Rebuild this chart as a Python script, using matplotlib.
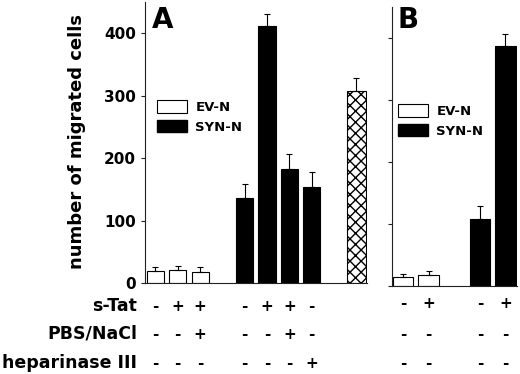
import matplotlib

matplotlib.use("Agg")
import matplotlib.pyplot as plt
from matplotlib.patches import Patch
from matplotlib.transforms import blended_transform_factory

# panel A: EV-N bars, SYN-N bars, crosshatched control bar
pos_ev_a = [0, 1, 2]
ev_a = [19, 21, 18]
ev_a_err = [6, 6, 7]
pos_syn_a = [4, 5, 6, 7]
syn_a = [136, 411, 182, 154]
syn_a_err = [22, 19, 25, 24]
pos_hatch_a = [9]
hatch_a = [308]
hatch_a_err = [20]

# panel B
pos_ev_b = [0, 1]
ev_b = [15, 17]
ev_b_err = [5, 7]
pos_syn_b = [3, 4]
syn_b = [108, 387]
syn_b_err = [21, 20]

row_labels = ["s-Tat", "PBS/NaCl", "heparinase III"]
sign_pos_a = [0, 1, 2, 4, 5, 6, 7]
signs_a = [
    ["-", "+", "+", "-", "+", "+", "-"],
    ["-", "-", "+", "-", "-", "+", "-"],
    ["-", "-", "-", "-", "-", "-", "+"],
]
sign_pos_b = [0, 1, 3, 4]
signs_b = [
    ["-", "+", "-", "+"],
    ["-", "-", "-", "-"],
    ["-", "-", "-", "-"],
]

W, H = 520, 374
LW = 0.8


def fx(x):
    return x / W


def fy(y):
    return 1 - y / H


def draw_bars(ax, pos, vals, errs, width, **style):
    ax.bar(pos, vals, width, edgecolor="black", linewidth=LW, **style)
    ax.errorbar(pos, vals, yerr=[[0] * len(vals), errs], fmt="none", ecolor="black",
                elinewidth=LW, capsize=2.5, capthick=LW)


def style_axes(ax):
    ax.set_ylim(0, 450)
    ax.spines["top"].set_visible(False)
    ax.spines["right"].set_visible(False)
    for side in ("left", "bottom"):
        ax.spines[side].set_linewidth(LW)
        ax.spines[side].set_color("#222222")
    ax.set_xticks([])
    ax.set_yticks([0, 100, 200, 300, 400])
    ax.tick_params(axis="y", direction="out", length=3, width=LW, color="#222222")
    ax.patch.set_alpha(0)


def add_legend(ax, x, y):
    handles = [Patch(facecolor="white", edgecolor="black", linewidth=LW, label="EV-N"),
               Patch(facecolor="black", edgecolor="black", label="SYN-N")]
    ax.legend(handles=handles, loc="upper left", bbox_to_anchor=(fx(x), fy(y)),
              bbox_transform=ax.figure.transFigure, frameon=False, borderpad=0,
              borderaxespad=0, handlelength=2.3, handleheight=1.1, handletextpad=0.6,
              labelspacing=0.45, prop={"size": 9.5, "weight": "bold"})


def add_signs(fig, ax, positions, rows, baselines):
    trans = blended_transform_factory(ax.transData, fig.transFigure)
    for signs, base in zip(rows, baselines):
        for p, s in zip(positions, signs):
            ax.text(p, fy(base), s, transform=trans, ha="center", va="baseline",
                    fontsize=11, fontweight="bold", clip_on=False)


fig = plt.figure(figsize=(5.2, 3.74), dpi=100)
ax_a = fig.add_axes([fx(145), fy(283), (367 - 145) / W, (283 - 2) / H])
ax_b = fig.add_axes([fx(392), fy(286), (517 - 392) / W, (286 - 7) / H])

draw_bars(ax_a, pos_ev_a, ev_a, ev_a_err, 0.77, color="white")
draw_bars(ax_a, pos_syn_a, syn_a, syn_a_err, 0.77, color="black")
draw_bars(ax_a, pos_hatch_a, hatch_a, hatch_a_err, 0.85, color="white", hatch="xxx")
style_axes(ax_a)
ax_a.set_xlim(-0.47, 9.48)
ax_a.set_yticklabels(["0", "100", "200", "300", "400"], fontsize=11, fontweight="bold")

draw_bars(ax_b, pos_ev_b, ev_b, ev_b_err, 0.8, color="white")
draw_bars(ax_b, pos_syn_b, syn_b, syn_b_err, 0.8, color="black")
style_axes(ax_b)
ax_b.set_xlim(-0.43, 4.45)
ax_b.set_yticklabels([])

plt.rcParams["hatch.linewidth"] = 0.7

add_legend(ax_a, 157, 100)
add_legend(ax_b, 398, 104)

fig.text(fx(77), fy(141.5), "number of migrated cells", rotation=90, ha="center",
         va="center", fontsize=13, fontweight="bold")
fig.text(fx(152), fy(28), "A", ha="left", va="baseline", fontsize=20, fontweight="bold")
fig.text(fx(398), fy(28), "B", ha="left", va="baseline", fontsize=20, fontweight="bold")

baselines_a = [311, 339, 368]
baselines_b = [308, 339, 368]
for label, base in zip(row_labels, baselines_a):
    fig.text(fx(137), fy(base), label, ha="right", va="baseline", fontsize=12.5,
             fontweight="bold")
add_signs(fig, ax_a, sign_pos_a, signs_a, baselines_a)
add_signs(fig, ax_b, sign_pos_b, signs_b, baselines_b)

fig.savefig("out.png", dpi=100)
